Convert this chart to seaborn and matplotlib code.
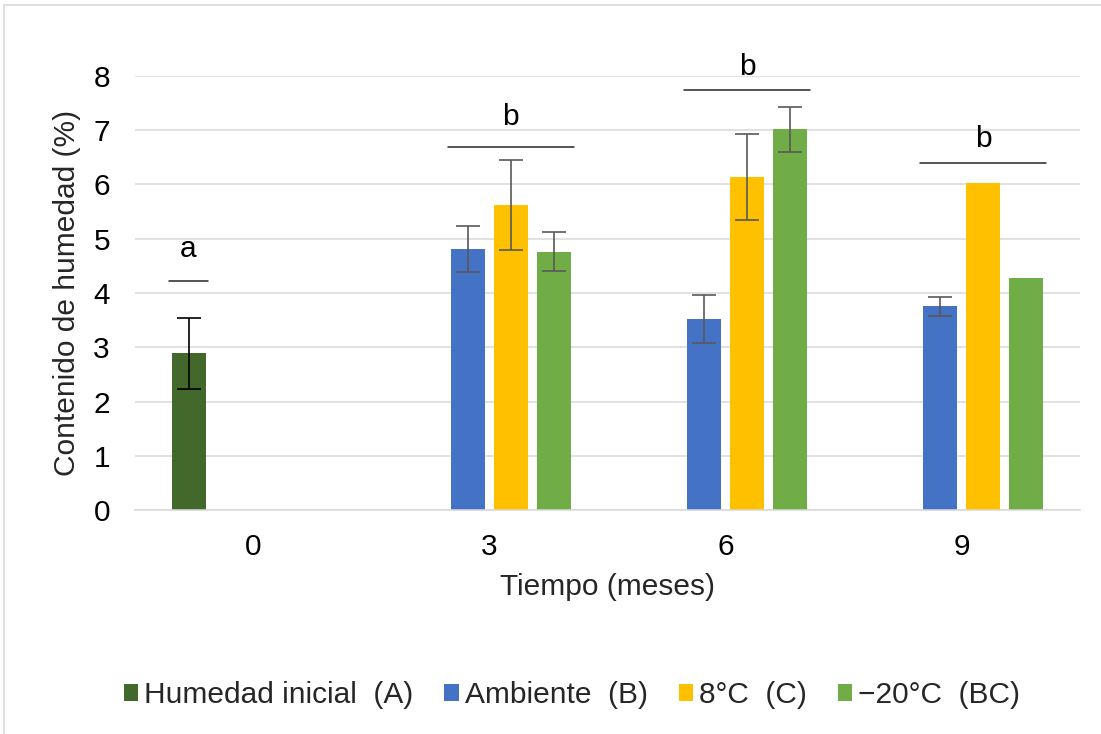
import numpy as np
import pandas as pd
import matplotlib
matplotlib.use('Agg')
import matplotlib.pyplot as plt
import seaborn as sns
from matplotlib.patches import Rectangle
from matplotlib.colors import to_rgba

# ---------------- data ----------------
meses = ['0', '3', '6', '9']
series = ['Humedad inicial  (A)', 'Ambiente  (B)', '8°C  (C)', '\u221220°C  (BC)']
colores = ['#43682B', '#4472C4', '#FFC000', '#70AD47']

humedad_inicial = [2.89, None, None, None]
ambiente = [None, 4.81, 3.52, 3.76]
refrig_8 = [None, 5.62, 6.13, 6.02]
cong_20 = [None, 4.76, 7.01, 4.27]

err_inicial = [0.66, None, None, None]
err_ambiente = [None, 0.43, 0.44, 0.175]
err_8 = [None, 0.83, 0.79, None]
err_20 = [None, 0.355, 0.415, None]

letras = ['a', 'b', 'b', 'b']
linea_y = [4.22, 6.68, 7.74, 6.40]
letra_y = [4.67, 7.09, 8.01, 6.69]

valores = [humedad_inicial, ambiente, refrig_8, cong_20]
errores = [err_inicial, err_ambiente, err_8, err_20]

rows = []
for s, vals, errs in zip(series, valores, errores):
    for m, v, e in zip(meses, vals, errs):
        if v is not None:
            rows.append({'Tiempo': m, 'Serie': s, 'Valor': v, 'Err': e})
df = pd.DataFrame(rows)

# ---------------- style ----------------
sns.set_style('white')
plt.rcParams['font.family'] = ['Liberation Sans', 'DejaVu Sans']
FS = 21.5

fig = plt.figure(figsize=(11.01, 7.34), dpi=100)
ax = fig.add_axes([0.1226, 0.3045, 0.8583, 0.5924])

sns.barplot(data=df, x='Tiempo', y='Valor', hue='Serie', order=meses,
            hue_order=series, palette=colores, saturation=1,
            width=0.729, gap=0.21, errorbar=None, ax=ax, linewidth=0)

# error bars, positioned from the drawn bars
col_rgba = [to_rgba(c) for c in colores]
for patch in ax.patches:
    fc = patch.get_facecolor()
    k = None
    for i, c in enumerate(col_rgba):
        if np.allclose(fc[:3], c[:3], atol=0.01):
            k = i
    if k is None:
        continue
    xc = patch.get_x() + patch.get_width() / 2
    gi = int(round(xc))
    e = errores[k][gi]
    if e is None or patch.get_height() == 0:
        continue
    ax.errorbar(xc, patch.get_height(), yerr=e,
                fmt='none', ecolor='black' if k == 0 else '#595959',
                elinewidth=1.2, capsize=8.4, capthick=1.2, zorder=5)

# significance lines and letters
for gi in range(len(meses)):
    lefts, rights = [], []
    for patch in ax.patches:
        if patch.get_height() <= 0 or patch.get_width() == 0:
            continue
        xc = patch.get_x() + patch.get_width() / 2
        if int(round(xc)) == gi:
            lefts.append(patch.get_x())
            rights.append(patch.get_x() + patch.get_width())
    if not lefts:
        continue
    x0 = min(lefts) - 0.012
    x1 = max(rights) + 0.012
    ax.plot([x0, x1], [linea_y[gi], linea_y[gi]], color='#262626', lw=1.1,
            clip_on=False, zorder=6)
    ax.text((x0 + x1) / 2, letra_y[gi], letras[gi], ha='center', va='baseline',
            fontsize=FS, color='black')

ax.set_ylim(0, 8)
ax.set_xlim(-0.5, 3.5)
ax.set_yticks(range(0, 9))
ax.yaxis.grid(True, color='#D9D9D9', lw=1.1)
ax.set_axisbelow(True)
for sp in ['left', 'top', 'right']:
    ax.spines[sp].set_visible(False)
ax.spines['bottom'].set_color('#D9D9D9')
ax.spines['bottom'].set_linewidth(1.1)
ax.tick_params(axis='both', length=0, labelsize=FS, colors='black')
ax.tick_params(axis='y', pad=18)
ax.tick_params(axis='x', pad=16)

ax.set_xlabel('Tiempo (meses)', fontsize=FS, va='center')
ax.set_ylabel('Contenido de humedad (%)', fontsize=FS, va='center')
ax.xaxis.set_label_coords(0.5, -0.176)
ax.yaxis.set_label_coords(-0.0723, 0.5)

sns.move_legend(ax, 'center', bbox_to_anchor=(572 / 1101, 1 - 695 / 734),
                bbox_transform=fig.transFigure, ncol=4, frameon=False,
                title=None, fontsize=FS, handlelength=0.48, handleheight=0.48,
                handletextpad=0.2, columnspacing=1.04, borderpad=0,
                borderaxespad=0)

# outer chart border (left and top visible)
fig.add_artist(Rectangle((4 / 1101, -0.5), 2.0, 0.5 + 1 - 5 / 734,
                         transform=fig.transFigure, fill=False,
                         edgecolor='#D9D9D9', lw=1.2))

fig.savefig('out.png', dpi=100)
